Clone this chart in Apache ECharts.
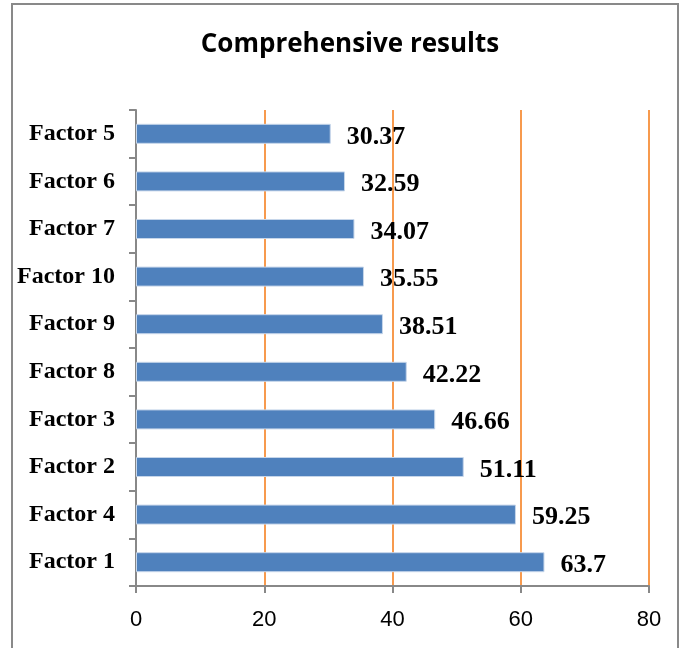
<!DOCTYPE html>
<html>
<head>
<meta charset="utf-8">
<script src="https://cdn.jsdelivr.net/npm/echarts@6/dist/echarts.min.js"></script>
<style>
  html, body { margin: 0; padding: 0; background: #fff; }
  #main { width: 682px; height: 648px; }
</style>
</head>
<body>
<div id="main"></div>
<script>
var myChart = echarts.init(document.getElementById("main"));

// 从上到下的类别
var factors = ['Factor 5', 'Factor 6', 'Factor 7', 'Factor 10', 'Factor 9',
               'Factor 8', 'Factor 3', 'Factor 2', 'Factor 4', 'Factor 1'];
var scores = [30.37, 32.59, 34.07, 35.55, 38.51, 42.22, 46.66, 51.11, 59.25, 63.7];
var xTicks = [0, 20, 40, 60, 80];

var option = {
    backgroundColor: '#fff',
    animation: false,
    title: {
        text: 'Comprehensive results',
        left: 345,
        top: 27,
        textAlign: 'center',
        textStyle: {
            fontFamily: '"Open Sans", sans-serif',
            fontWeight: 'bold',
            fontSize: 26,
            color: '#000'
        }
    },
    // 外框
    graphic: [{
        type: 'rect',
        shape: { x: 12, y: 4, width: 666, height: 660 },
        style: { fill: 'none', stroke: '#898989', lineWidth: 2 },
        silent: true
    }],
    grid: {
        left: 136,
        right: 33,
        top: 110,
        bottom: 62,
        containLabel: false
    },
    xAxis: {
        type: 'value',
        min: xTicks[0],
        max: xTicks[xTicks.length - 1],
        interval: 20,
        axisLine: {
            show: true,
            lineStyle: { color: '#888', width: 2 }
        },
        axisTick: {
            show: true,
            length: 7,
            lineStyle: { color: '#888', width: 2 }
        },
        axisLabel: {
            margin: 23,
            fontFamily: '"Liberation Sans", sans-serif',
            fontSize: 22,
            color: '#000'
        },
        splitLine: {
            show: true,
            showMinLine: false,
            lineStyle: { color: '#F79A4E', width: 2 }
        }
    },
    yAxis: {
        type: 'category',
        inverse: true,
        data: factors,
        axisLine: {
            show: true,
            lineStyle: { color: '#888', width: 2 }
        },
        axisTick: {
            show: true,
            length: 7,
            lineStyle: { color: '#888', width: 2 }
        },
        axisLabel: {
            margin: 21,
            fontFamily: '"Liberation Serif", "Times New Roman", serif',
            fontWeight: 'bold',
            fontSize: 24,
            color: '#000'
        }
    },
    series: [{
        type: 'bar',
        data: scores,
        barWidth: 20,
        itemStyle: {
            color: '#4F81BD',
            borderColor: '#C6D6EA',
            borderWidth: 1
        },
        label: {
            show: true,
            position: 'right',
            distance: 16,
            offset: [0, 3],
            fontFamily: '"Liberation Serif", "Times New Roman", serif',
            fontWeight: 'bold',
            fontSize: 26,
            color: '#000'
        }
    }]
};

myChart.setOption(option);
</script>
</body>
</html>
